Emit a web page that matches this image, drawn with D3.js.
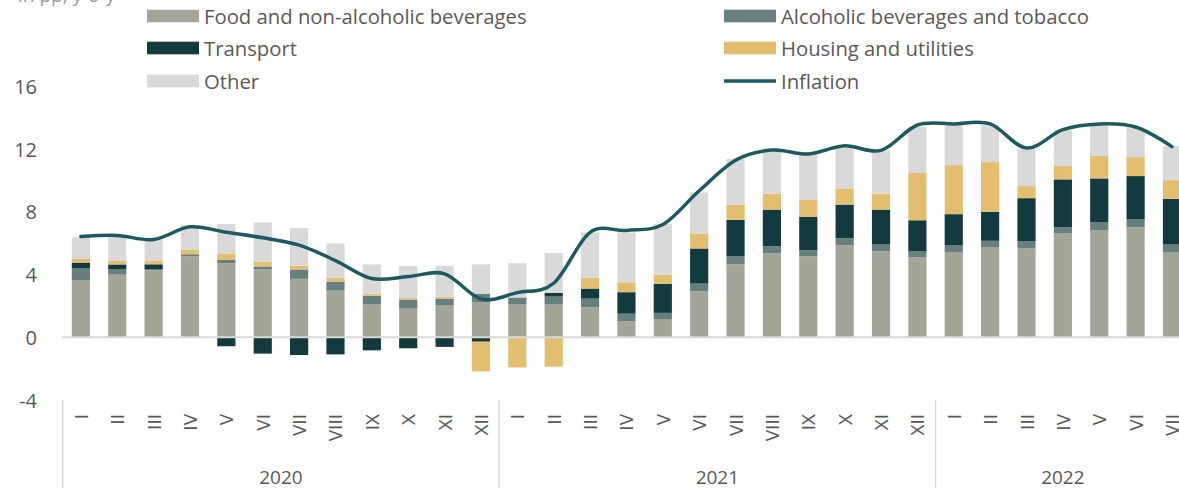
<!DOCTYPE html>
<html><head><meta charset="utf-8">
<script src="https://cdn.jsdelivr.net/npm/d3@7"></script>
<style>
html,body{margin:0;padding:0;background:#fff;}
svg{display:block;font-family:"Open Sans","Noto Sans",sans-serif;}
</style></head>
<body><svg id="chart" width="1179" height="488"></svg>
<script>
const months = ["I","II","III","IV","V","VI","VII","VIII","IX","X","XI","XII",
                "I","II","III","IV","V","VI","VII","VIII","IX","X","XI","XII",
                "I","II","III","IV","V","VI","VII"];
const years = ["2020","2021","2022"];
const yearLengths = [12,12,7];
const yTicks = [-4,0,4,8,12,16];
const seriesNames = ["Food and non-alcoholic beverages","Alcoholic beverages and tobacco","Transport","Housing and utilities","Other"];
const lineName = "Inflation";
const food = [3.62,4.0,4.28,5.18,4.73,4.33,3.73,2.98,2.09,1.83,2.03,2.22,
              2.09,2.09,1.92,1.02,1.13,2.94,4.66,5.35,5.18,5.88,5.48,5.11,
              5.41,5.73,5.67,6.63,6.82,7.01,5.41];
const alcohol = [0.77,0.33,0.05,0.12,0.23,0.19,0.6,0.58,0.57,0.58,0.44,0.57,
                 0.45,0.51,0.55,0.49,0.43,0.49,0.52,0.47,0.38,0.45,0.44,0.39,
                 0.45,0.43,0.45,0.4,0.51,0.51,0.51];
const transport = [0.38,0.32,0.33,0,-0.57,-1.04,-1.13,-1.09,-0.83,-0.7,-0.61,-0.28,
                   0,0.24,0.64,1.37,1.85,2.24,2.32,2.33,2.14,2.14,2.23,1.97,
                   2.0,1.85,2.76,3.05,2.81,2.77,2.92];
const housing = [0.26,0.25,0.24,0.3,0.39,0.32,0.25,0.25,0.13,0.13,0.13,-1.89,
                 -1.92,-1.87,0.7,0.63,0.59,0.96,0.97,1.02,1.1,1.03,1.02,3.02,
                 3.13,3.17,0.77,0.85,1.43,1.21,1.19];
const other = [1.36,1.66,1.3,1.56,1.89,2.49,2.39,2.18,1.86,2.02,1.96,1.87,
               2.19,2.55,2.88,3.18,3.24,2.62,2.93,2.88,3.0,2.68,2.76,2.94,
               2.54,2.35,2.39,2.28,2.0,1.92,2.17];
const inflation = [6.43,6.5,6.24,7.05,6.7,6.35,5.88,4.9,3.75,3.88,4.05,2.45,
                   2.85,3.45,6.7,6.82,7.2,9.35,11.3,11.95,11.7,12.22,11.93,13.55,
                   13.62,13.62,12.08,13.25,13.62,13.42,12.17];

const colors = ["#a5a597","#687f80","#133a3e","#e3be6f","#d9d9d9"];
const lineColor = "#1b5a61";
const textColor = "#595959";

const svg = d3.select("#chart");
const keys = ["food","alcohol","transport","housing","other"];
const rows = months.map((m,i)=>({i, food:food[i], alcohol:alcohol[i], transport:transport[i], housing:housing[i], other:other[i]}));

const x = d3.scaleBand().domain(d3.range(months.length)).range([62.7, 62.7 + 31*36.37]).paddingInner(0.5).paddingOuter(0.25);
const step = x.step();
const x0 = x.range()[0];
const y = d3.scaleLinear().domain([-4,16]).range([400, 86.6]);

// title fragment (cut at top edge, as in the reference)
svg.append("text").attr("x",18).attr("y",2).attr("fill","#9a9a9a").style("font-size","19px").text("in pp, y-o-y");

// y labels
svg.append("g").selectAll("text").data(yTicks).join("text")
  .attr("x",37).attr("y",d=>y(d)).attr("text-anchor","end").attr("dominant-baseline","central")
  .attr("fill",textColor).style("font-size","20px").text(d=>d);

// bars
const stack = d3.stack().keys(keys).offset(d3.stackOffsetDiverging)(rows);
svg.append("g").selectAll("g").data(stack).join("g").attr("fill",(d,k)=>colors[k])
  .selectAll("rect").data(d=>d).join("rect")
  .attr("x",d=>x(d.data.i)).attr("width",x.bandwidth())
  .attr("y",d=>y(Math.max(d[0],d[1]))).attr("height",d=>Math.abs(y(d[0])-y(d[1])));

// zero line
svg.append("line").attr("x1",62).attr("x2",1179).attr("y1",y(0)).attr("y2",y(0))
  .attr("stroke","#d9d9d9").attr("stroke-width",2);

// inflation line
const line = d3.line().x((d,i)=>x(i)+x.bandwidth()/2).y(d=>y(d)).curve(d3.curveCardinal.tension(0));
svg.append("path").datum(inflation).attr("d",line).attr("fill","none")
  .attr("stroke",lineColor).attr("stroke-width",3.5).attr("stroke-linejoin","round").attr("stroke-linecap","round");

// month labels
svg.append("g").selectAll("text").data(months).join("text")
  .attr("transform",(d,i)=>`translate(${x(i)+x.bandwidth()/2},414) rotate(-90)`)
  .attr("text-anchor","end").attr("dominant-baseline","central")
  .attr("fill",textColor).style("font-size","19px").text(d=>d);

// year dividers and labels
let acc = 0;
const bounds = [0];
yearLengths.forEach(n=>{acc+=n; bounds.push(acc);});
svg.append("g").selectAll("line").data(bounds.slice(0,3)).join("line")
  .attr("x1",d=>x0+d*step).attr("x2",d=>x0+d*step).attr("y1",400).attr("y2",488)
  .attr("stroke","#d9d9d9").attr("stroke-width",1.5);
svg.append("g").selectAll("text").data(years).join("text")
  .attr("x",(d,k)=>x0 + (bounds[k]+bounds[k+1])/2*step)
  .attr("y",477).attr("text-anchor","middle").attr("dominant-baseline","central")
  .attr("fill",textColor).style("font-size","19px").text(d=>d);

// legend
const legendPos = [[147,16],[724,16],[147,48],[724,48],[147,81]];
const lg = svg.append("g");
seriesNames.forEach((name,k)=>{
  const [lx,ly] = legendPos[k];
  lg.append("rect").attr("x",lx).attr("y",ly-6.3).attr("width",52).attr("height",12.6).attr("fill",colors[k]);
  lg.append("text").attr("x",lx+57).attr("y",ly).attr("dominant-baseline","central")
    .attr("fill",textColor).style("font-size","20.3px").text(name);
});
lg.append("line").attr("x1",724).attr("x2",776).attr("y1",81).attr("y2",81).attr("stroke",lineColor).attr("stroke-width",3.5);
lg.append("text").attr("x",781).attr("y",81).attr("dominant-baseline","central")
  .attr("fill",textColor).style("font-size","20.3px").text(lineName);
</script></body></html>
